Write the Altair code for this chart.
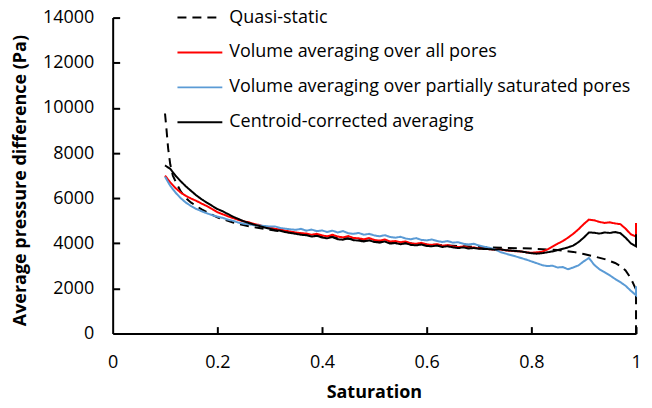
import altair as alt
import pandas as pd

# ---- data ----
sat = [round(0.10 + 0.01 * i, 2) for i in range(91)]  # 0.10 ... 1.00 sample grid

vol_all = [7000, 6700, 6450, 6250, 6100, 5980, 5880, 5760, 5650, 5520,
           5380, 5290, 5200, 5120, 5040, 4980, 4930, 4860, 4810, 4740,
           4700, 4640, 4610, 4560, 4520, 4480, 4450, 4430, 4380, 4420,
           4350, 4310, 4380, 4300, 4260, 4320, 4240, 4220, 4180, 4230,
           4150, 4120, 4170, 4080, 4100, 4050, 4080, 4000, 3980, 4020,
           3950, 3930, 3960, 3890, 3920, 3860, 3830, 3860, 3800, 3820,
           3770, 3760, 3740, 3720, 3730, 3690, 3670, 3650, 3640, 3600,
           3580, 3600, 3620, 3720, 3850, 3980, 4100, 4250, 4420, 4620,
           4850, 5050, 5020, 4950, 4900, 4930, 4880, 4850, 4650, 4400,
           4300]
vol_all_end = 4900

vol_part = [6950, 6550, 6250, 6000, 5800, 5650, 5520, 5420, 5330, 5250,
            5180, 5130, 5050, 5000, 4920, 4870, 4840, 4800, 4790, 4770,
            4740, 4750, 4680, 4650, 4620, 4600, 4640, 4560, 4610, 4540,
            4570, 4500, 4560, 4480, 4540, 4450, 4420, 4460, 4380, 4420,
            4350, 4310, 4360, 4280, 4250, 4290, 4210, 4180, 4230, 4150,
            4130, 4170, 4100, 4060, 4100, 4030, 4050, 3980, 3950, 3980,
            3900, 3850, 3800, 3740, 3620, 3550, 3480, 3420, 3350, 3280,
            3200, 3120, 3040, 2990, 3010, 2930, 2950, 2850, 2930, 3020,
            3200, 3350, 3050, 2850, 2720, 2580, 2420, 2280, 2120, 1900,
            1700]
vol_part_end = 2100

centroid = [7450, 7300, 7000, 6750, 6520, 6320, 6120, 5950, 5800, 5660,
            5520, 5420, 5300, 5180, 5080, 4980, 4900, 4830, 4770, 4700,
            4650, 4580, 4560, 4500, 4460, 4420, 4380, 4360, 4300, 4330,
            4260, 4220, 4280, 4180, 4160, 4220, 4140, 4120, 4080, 4130,
            4060, 4030, 4080, 3990, 4010, 3960, 4000, 3930, 3910, 3950,
            3880, 3870, 3900, 3840, 3870, 3820, 3790, 3820, 3770, 3790,
            3760, 3750, 3740, 3720, 3740, 3700, 3680, 3660, 3640, 3600,
            3560, 3540, 3560, 3600, 3640, 3700, 3760, 3820, 3900, 4050,
            4250, 4480, 4470, 4430, 4480, 4460, 4500, 4450, 4250, 4000,
            3870]
centroid_end = 4400

qs_sat = [0.100, 0.103, 0.106, 0.110, 0.115, 0.120, 0.130, 0.140, 0.150, 0.170,
          0.200, 0.230, 0.260, 0.300, 0.350, 0.400, 0.450, 0.500, 0.550, 0.600,
          0.650, 0.700, 0.750, 0.800, 0.850, 0.880, 0.900, 0.920, 0.940, 0.960,
          0.970, 0.980, 0.990, 0.995, 1.000, 1.000]
quasi = [9750, 9000, 8200, 7500, 7000, 6750, 6300, 6000, 5800, 5500,
         5150, 4920, 4760, 4600, 4450, 4320, 4200, 4100, 4020, 3950,
         3890, 3840, 3800, 3770, 3700, 3620, 3530, 3420, 3300, 3130,
         3000, 2800, 2450, 2200, 1950, 0]

names = ["Quasi-static",
         "Volume averaging over all pores",
         "Volume averaging over partially saturated pores",
         "Centroid-corrected averaging"]
colors = ["#000000", "#FF0000", "#5B9BD5", "#000000"]
dashes = [[9, 6], [1, 0], [1, 0], [1, 0]]

x_ticks = [0.2, 0.4, 0.6, 0.8, 1.0]
y_ticks = [2000, 4000, 6000, 8000, 10000, 12000, 14000]

# ---- build long table ----
rows = []
def add(name, xs, ys):
    for i, (x, y) in enumerate(zip(xs, ys)):
        rows.append({"series": name, "s": x, "p": y, "idx": i})

add(names[0], qs_sat, quasi)
add(names[1], sat + [1.0], vol_all + [vol_all_end])
add(names[2], sat + [1.0], vol_part + [vol_part_end])
add(names[3], sat + [1.0], centroid + [centroid_end])
df = pd.DataFrame(rows)

FONT = "Open Sans"
W, H = 525, 317
xscale = alt.Scale(domain=[0, 1], nice=False)
yscale = alt.Scale(domain=[0, 14000], nice=False)

lines = alt.Chart(df).mark_line(strokeWidth=2).encode(
    x=alt.X("s:Q", scale=xscale,
            axis=alt.Axis(values=[0, 0.2, 0.4, 0.6, 0.8, 1.0], format="~g",
                          title="Saturation", ticks=False, grid=False,
                          domainColor="black", domainWidth=2,
                          labelFont=FONT, labelFontSize=18, labelColor="black",
                          labelPadding=20, labelFlush=False,
                          titleFont=FONT, titleFontSize=18, titleFontWeight="bold",
                          titleColor="black", titleX=262, titleY=59,
                          titleBaseline="middle", titleAlign="center")),
    y=alt.Y("p:Q", scale=yscale,
            axis=alt.Axis(values=[0, 2000, 4000, 6000, 8000, 10000, 12000, 14000],
                          format="d", title="Average pressure difference (Pa)",
                          ticks=False, grid=False,
                          domainColor="black", domainWidth=2,
                          labelFont=FONT, labelFontSize=18, labelColor="black",
                          labelPadding=19,
                          titleFont=FONT, titleFontSize=18, titleFontWeight="bold",
                          titleColor="black", titleX=-92, titleY=163,
                          titleAngle=270, titleBaseline="middle", titleAlign="center")),
    color=alt.Color("series:N", scale=alt.Scale(domain=names, range=colors),
                    legend=alt.Legend(title=None)),
    strokeDash=alt.StrokeDash("series:N", scale=alt.Scale(domain=names, range=dashes),
                              legend=alt.Legend(title=None)),
    order=alt.Order("idx:Q"),
)

# inward-pointing ticks: extra axes moved onto the plot edges, ticks facing inside
tick_x_axis = alt.Axis(orient="top", offset=-H, values=x_ticks, labels=False,
                       domain=False, ticks=True, tickSize=7, tickWidth=2,
                       tickColor="black", grid=False, title=None)
tick_y_axis = alt.Axis(orient="right", offset=-W, values=y_ticks, labels=False,
                       domain=False, ticks=True, tickSize=7, tickWidth=2,
                       tickColor="black", grid=False, title=None)

xt = alt.Chart(pd.DataFrame({"tx": x_ticks, "base": [0] * len(x_ticks)})).mark_point(
    opacity=0).encode(
    x=alt.X("tx:Q", scale=xscale, axis=tick_x_axis),
    y=alt.Y("base:Q", scale=yscale, axis=None))
yt = alt.Chart(pd.DataFrame({"ty": y_ticks, "base": [0] * len(y_ticks)})).mark_point(
    opacity=0).encode(
    y=alt.Y("ty:Q", scale=yscale, axis=tick_y_axis),
    x=alt.X("base:Q", scale=xscale, axis=None))

chart = alt.layer(lines, xt, yt).resolve_axis(
    x="independent", y="independent"
).properties(
    width=W, height=H, autosize="none",
    padding={"left": 105, "top": 9, "right": 8, "bottom": 72},
).configure_view(stroke=None).configure_legend(
    orient="none", legendX=77.5, legendY=-10, padding=0,
    symbolType="M-2.5,0H2.5", symbolSize=324, symbolStrokeWidth=2,
    symbolFillColor="transparent",
    labelFont=FONT, labelFontSize=18, labelColor="black", labelOffset=19.5,
    rowPadding=16, labelLimit=500,
)

chart.save("out.html", embed_options={"renderer": "svg", "actions": False})
